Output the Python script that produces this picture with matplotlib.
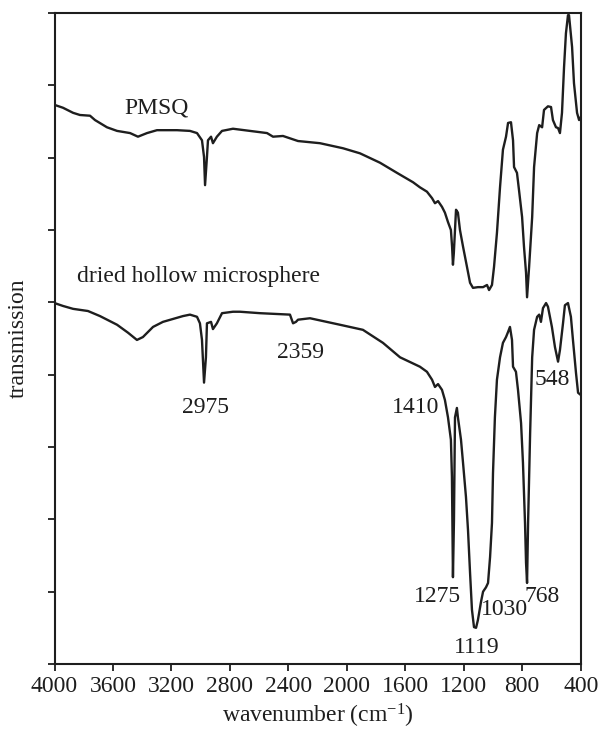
import matplotlib
matplotlib.use("Agg")
import matplotlib.pyplot as plt

plt.rcParams['font.family'] = ['Liberation Serif', 'DejaVu Serif']
plt.rcParams['mathtext.fontset'] = 'custom'
plt.rcParams['mathtext.rm'] = 'Liberation Serif'
plt.rcParams['mathtext.it'] = 'Liberation Serif:italic'

# PMSQ spectrum (wavenumber cm-1, transmission in arbitrary units)
pmsq_wn = [4000, 3942, 3873, 3826, 3757, 3723, 3641, 3572, 3483, 3429, 3367, 3299, 3162,
           3073, 3025, 2991, 2977, 2970, 2957, 2950, 2929, 2916, 2889, 2854, 2779, 2663,
           2546, 2505, 2437, 2334, 2184, 2026, 1910, 1773, 1657, 1547, 1500, 1452, 1417,
           1397, 1376, 1349, 1329, 1308, 1288, 1280, 1274, 1268, 1253, 1240, 1226, 1205,
           1178, 1157, 1137, 1103, 1068, 1041, 1027, 1007, 993, 973, 952, 932, 911, 897,
           877, 863, 856, 836, 822, 801, 788, 774, 767, 753, 732, 719, 698, 684, 664,
           651, 624, 603, 590, 569, 555, 542, 528, 514, 501, 487, 480, 459, 446, 425,
           411, 400]
pmsq_t = [7.73, 7.69, 7.62, 7.59, 7.58, 7.52, 7.42, 7.37, 7.34, 7.29, 7.34, 7.38, 7.38,
          7.37, 7.34, 7.24, 7.01, 6.62, 7.01, 7.24, 7.29, 7.20, 7.29, 7.37, 7.40, 7.37,
          7.34, 7.29, 7.30, 7.23, 7.20, 7.13, 7.06, 6.93, 6.79, 6.66, 6.59, 6.53, 6.44,
          6.37, 6.40, 6.32, 6.24, 6.11, 6.00, 5.77, 5.52, 5.68, 6.28, 6.24, 6.00, 5.77,
          5.49, 5.27, 5.20, 5.21, 5.21, 5.24, 5.17, 5.24, 5.49, 5.96, 6.59, 7.11, 7.29, 7.48,
          7.49, 7.24, 6.87, 6.79, 6.55, 6.18, 5.77, 5.41, 5.07, 5.49, 6.18, 6.87, 7.34, 7.45,
          7.42, 7.66, 7.71, 7.70, 7.52, 7.42, 7.41, 7.34, 7.62, 8.25, 8.72, 8.97, 8.97, 8.53,
          8.03, 7.62, 7.52, 7.56]

# dried hollow microsphere spectrum
hollow_wn = [4000, 3942, 3873, 3771, 3689, 3572, 3497, 3436, 3395, 3326, 3258, 3121, 3073,
             3025, 3005, 2991, 2977, 2964, 2957, 2929, 2916, 2889, 2854, 2779, 2731, 2594,
             2389, 2368, 2348, 2334, 2252, 2047, 1890, 1753, 1636, 1500, 1452, 1417, 1397,
             1376, 1349, 1329, 1308, 1288, 1281, 1274, 1267, 1260, 1247, 1240, 1219, 1205,
             1185, 1171, 1157, 1144, 1130, 1116, 1103, 1082, 1068, 1048, 1034, 1020, 1007,
             1000, 987, 973, 952, 932, 911, 897, 884, 870, 863, 843, 829, 808, 795, 781,
             774, 767, 760, 746, 732, 719, 698, 684, 672, 658, 637, 624, 597, 576, 555,
             542, 521, 508, 487, 467, 453, 432, 418, 400]
hollow_t = [4.99, 4.95, 4.91, 4.88, 4.81, 4.69, 4.58, 4.48, 4.52, 4.66, 4.73, 4.81, 4.83,
            4.80, 4.71, 4.48, 3.89, 4.24, 4.71, 4.73, 4.63, 4.71, 4.85, 4.87, 4.87, 4.85,
            4.83, 4.71, 4.73, 4.76, 4.78, 4.69, 4.62, 4.44, 4.24, 4.11, 4.04, 3.93, 3.83,
            3.87, 3.79, 3.65, 3.41, 3.10, 2.59, 1.20, 1.99, 3.41, 3.54, 3.41, 3.10, 2.78,
            2.31, 1.85, 1.26, 0.75, 0.51, 0.50, 0.61, 0.86, 1.00, 1.06, 1.12, 1.48, 1.95,
            2.64, 3.41, 3.93, 4.24, 4.44, 4.52, 4.59, 4.66, 4.48, 4.11, 4.04, 3.79, 3.33,
            2.78, 1.95, 1.40, 1.12, 1.95, 3.19, 4.24, 4.62, 4.80, 4.83, 4.73, 4.92, 4.99,
            4.94, 4.66, 4.38, 4.18, 4.34, 4.71, 4.96, 4.99, 4.80, 4.48, 4.02, 3.75, 3.72]

# curve labels
curve_labels = ["PMSQ", "dried hollow microsphere"]
curve_label_pos = [(3302, 7.69), (3843, 5.36)]

# peak labels
peak_labels = ["2975", "2359", "1410", "548", "1275", "1030", "768", "1119"]
peak_label_pos = [(2967, 3.55), (2316, 4.31), (1529, 3.55), (598, 3.93),
                  (1379, 0.93), (920, 0.75), (667, 0.93), (1112, 0.23)]

xticks = [4000, 3600, 3200, 2800, 2400, 2000, 1600, 1200, 800, 400]

ink = '#1e1e1e'
fig = plt.figure(figsize=(6.04, 7.29), dpi=100)
ax = fig.add_axes([54.5/604, (729-664)/729, (580.7-54.5)/604, (664-13)/729])

ax.plot(pmsq_wn, pmsq_t, color=ink, lw=1.7)
ax.plot(hollow_wn, hollow_t, color=ink, lw=1.7)

ax.text(*curve_label_pos[0], curve_labels[0], ha='center', va='center', fontsize=17, color=ink)
ax.text(*curve_label_pos[1], curve_labels[1], ha='left', va='center', fontsize=17, color=ink)
for lab, (x, y) in zip(peak_labels, peak_label_pos):
    ax.text(x, y, lab, ha='center', va='center', fontsize=17, color=ink)

ax.set_xlim(4000, 400)
ax.set_ylim(0, 9)
ax.set_xticks(xticks)
ax.set_xticklabels([str(t) for t in xticks])
ax.set_yticks(range(0, 10))
ax.set_yticklabels([])
ax.tick_params(axis='both', direction='out', length=5, width=1.3, colors=ink,
               labelsize=17, top=False, right=False)
for s in ax.spines.values():
    s.set_linewidth(1.5)
    s.set_color(ink)

ax.set_xlabel('wavenumber (cm$^{-1}$)', fontsize=17, color=ink, labelpad=4)
ax.set_ylabel('transmission', fontsize=17, color=ink, labelpad=10)

fig.savefig('out.png', dpi=100)
